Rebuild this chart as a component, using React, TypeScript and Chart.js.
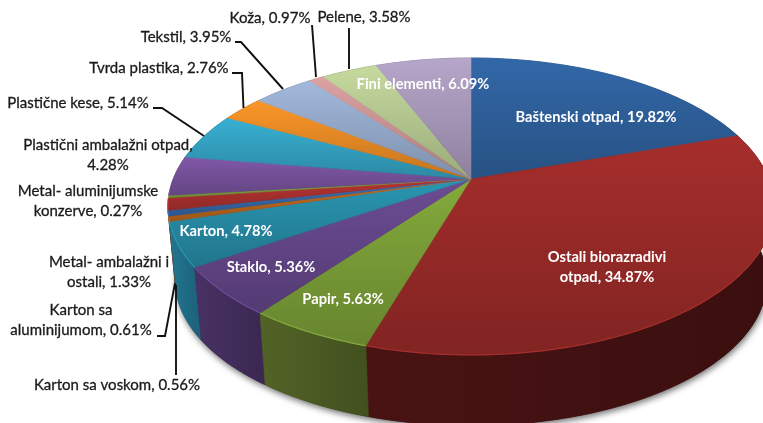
import React, { useEffect, useRef } from "react";
import { Chart, registerables } from "chart.js";

Chart.register(...registerables);

const categories = [
  "Baštenski otpad", "Ostali biorazradivi otpad", "Papir", "Staklo", "Karton",
  "Karton sa voskom", "Karton sa aluminijumom", "Metal- ambalažni i ostali",
  "Metal- aluminijumske konzerve", "Plastični ambalažni otpad", "Plastične kese",
  "Tvrda plastika", "Tekstil", "Koža", "Pelene", "Fini elementi",
];
const shares = [19.82, 34.87, 5.63, 5.36, 4.78, 0.56, 0.61, 1.33, 0.27, 4.28, 5.14, 2.76, 3.95, 0.97, 3.58, 6.09];
const sliceColors = [
  "#3268a8", "#a62e2c", "#84aa3c", "#6c4c94", "#2a96b2", "#c96e1e", "#3a70b4", "#b83432",
  "#8cae42", "#8058a8", "#38b0d2", "#fb9628", "#a2b8dc", "#dca2a2", "#c6da9e", "#b6a6ca",
];
const wallColors = [
  "#1f3f66", "#451212", "#4d5d24", "#442e5e", "#20708a", "#7a4214", "#24446e", "#6e1f1e",
  "#55692a", "#4d3566", "#226a80", "#985a18", "#626f85", "#856262", "#78845f", "#6e657a",
];

// geometry of the tilted disc
const CX = 471, CY = 179, RX = 297.8, RY = 143.4, K = 0.185, DEPTH = 75, BOTTOM_SCALE = 0.976;

const darkLabels: { lines: string[]; x: number; y: number }[] = [
  { lines: ["Koža, 0.97%"], x: 270, y: 18 },
  { lines: ["Pelene, 3.58%"], x: 364, y: 17 },
  { lines: ["Tekstil, 3.95%"], x: 186, y: 37 },
  { lines: ["Tvrda plastika, 2.76%"], x: 159, y: 68 },
  { lines: ["Plastične kese, 5.14%"], x: 78, y: 103 },
  { lines: ["Plastični ambalažni otpad,", "4.28%"], x: 108, y: 145 },
  { lines: ["Metal- aluminijumske", "konzerve, 0.27%"], x: 88, y: 191 },
  { lines: ["Metal- ambalažni i", "ostali, 1.33%"], x: 109, y: 262 },
  { lines: ["Karton sa", "aluminijumom, 0.61%"], x: 81, y: 310 },
  { lines: ["Karton sa voskom, 0.56%"], x: 117, y: 385 },
];
const lightLabels: { lines: string[]; x: number; y: number }[] = [
  { lines: ["Fini elementi, 6.09%"], x: 423, y: 84 },
  { lines: ["Baštenski otpad, 19.82%"], x: 596, y: 117 },
  { lines: ["Ostali biorazradivi", "otpad, 34.87%"], x: 607, y: 257 },
  { lines: ["Papir, 5.63%"], x: 343, y: 299 },
  { lines: ["Staklo, 5.36%"], x: 271, y: 267 },
  { lines: ["Karton, 4.78%"], x: 226, y: 231 },
];
const leaderLines: number[][][] = [
  [[235, 42], [241, 42], [283, 89]],
  [[232, 73], [242, 73], [243.5, 108]],
  [[153, 108], [162, 108], [204, 136]],
  [[312, 25], [316, 77]],
  [[349, 28], [349, 69]],
  [[176, 375], [176, 285]],
  [[157, 336], [165, 336], [175, 283]],
];

function project(a: number, scale = 1, drop = 0): [number, number] {
  const u = Math.cos(a), v = Math.sin(a), w = 1 - K * v;
  return [CX + (scale * RX * u) / w, CY + (scale * RY * v) / w + drop];
}

function arcPoints(a0: number, a1: number, scale = 1, drop = 0): [number, number][] {
  const n = Math.max(2, Math.ceil(Math.abs(a1 - a0) / 0.015));
  const out: [number, number][] = [];
  for (let i = 0; i <= n; i++) out.push(project(a0 + ((a1 - a0) * i) / n, scale, drop));
  return out;
}

function shade(hex: string, f: number) {
  const n = parseInt(hex.slice(1), 16);
  const c = [(n >> 16) & 255, (n >> 8) & 255, n & 255].map((x) => Math.round(x * f));
  return `rgb(${c[0]},${c[1]},${c[2]})`;
}

function poly(ctx: CanvasRenderingContext2D, pts: [number, number][]) {
  ctx.beginPath();
  pts.forEach((p, i) => (i ? ctx.lineTo(p[0], p[1]) : ctx.moveTo(p[0], p[1])));
  ctx.closePath();
}

const tiltedPie = {
  id: "tiltedPie",
  beforeDatasetsDraw(chart: any) {
    const ctx: CanvasRenderingContext2D = chart.ctx;
    const arcs = chart.getDatasetMeta(0).data.map((el: any, i: number) => {
      const p = el.getProps(["startAngle", "endAngle"], true);
      return { i, a0: p.startAngle as number, a1: p.endAngle as number };
    });
    ctx.save();

    // soft shadow under the disc
    ctx.save();
    ctx.shadowColor = "rgba(0,0,0,0.55)";
    ctx.shadowBlur = 6;
    ctx.shadowOffsetX = 1;
    ctx.shadowOffsetY = 3;
    ctx.fillStyle = "#3a1010";
    poly(ctx, arcPoints(0, Math.PI * 2, BOTTOM_SCALE, DEPTH));
    ctx.fill();
    ctx.restore();

    // outer walls
    arcs
      .slice()
      .sort((p: any, q: any) => Math.sin((p.a0 + p.a1) / 2) - Math.sin((q.a0 + q.a1) / 2))
      .forEach((s: any) => {
        const top = arcPoints(s.a0, s.a1);
        const pts = top.concat(arcPoints(s.a0, s.a1, BOTTOM_SCALE, DEPTH).reverse());
        const xs = pts.map((p) => p[0]);
        const g = ctx.createLinearGradient(Math.min(...xs), 0, Math.max(...xs), 0);
        g.addColorStop(0, shade(wallColors[s.i], 1.06));
        g.addColorStop(1, shade(wallColors[s.i], 0.86));
        poly(ctx, pts);
        ctx.fillStyle = g;
        ctx.strokeStyle = g;
        ctx.lineWidth = 0.6;
        ctx.fill();
        ctx.stroke();
      });

    // top faces
    arcs.forEach((s: any) => {
      const rim = arcPoints(s.a0, s.a1);
      const pts: [number, number][] = [[CX, CY], ...rim];
      const ys = pts.map((p) => p[1]);
      const g = ctx.createLinearGradient(0, Math.min(...ys), 0, Math.max(...ys));
      g.addColorStop(0, sliceColors[s.i]);
      g.addColorStop(1, shade(sliceColors[s.i], 0.78));
      poly(ctx, pts);
      ctx.fillStyle = g;
      ctx.strokeStyle = g;
      ctx.lineWidth = 0.5;
      ctx.fill();
      ctx.stroke();
      // rim highlight on the front edge
      const front = rim.filter((p) => p[1] > CY + 10);
      if (front.length > 1) {
        ctx.beginPath();
        front.forEach((p, i) => (i ? ctx.lineTo(p[0], p[1]) : ctx.moveTo(p[0], p[1])));
        ctx.strokeStyle = shade(sliceColors[s.i], 1.0);
        ctx.lineWidth = 1.2;
        ctx.stroke();
      }
    });

    // leader lines
    ctx.strokeStyle = "#111";
    ctx.lineWidth = 1.9;
    leaderLines.forEach((l) => {
      ctx.beginPath();
      l.forEach((p, i) => (i ? ctx.lineTo(p[0], p[1]) : ctx.moveTo(p[0], p[1])));
      ctx.stroke();
    });

    // labels
    ctx.textAlign = "center";
    ctx.textBaseline = "middle";
    const write = (items: typeof darkLabels, font: string, color: string, edge: number) => {
      ctx.font = font;
      ctx.fillStyle = color;
      ctx.strokeStyle = color;
      ctx.lineWidth = edge;
      items.forEach((it) =>
        it.lines.forEach((t, i) => {
          ctx.fillText(t, it.x, it.y + i * 20.5);
          if (edge) ctx.strokeText(t, it.x, it.y + i * 20.5);
        })
      );
    };
    write(darkLabels, "400 15px Lato", "#1a1a1a", 0.3);
    write(lightLabels, "700 14.7px Lato", "#ffffff", 0);
    ctx.restore();
    return false;
  },
};

export default function App() {
  const ref = useRef<HTMLCanvasElement>(null);
  useEffect(() => {
    document.body.style.margin = "0";
    const chart = new Chart(ref.current as HTMLCanvasElement, {
      type: "pie",
      data: {
        labels: categories,
        datasets: [{ data: shares, backgroundColor: sliceColors, borderWidth: 0 }],
      },
      options: {
        responsive: false,
        animation: false,
        plugins: { legend: { display: false }, tooltip: { enabled: false } },
      },
      plugins: [tiltedPie],
    } as any);
    return () => chart.destroy();
  }, []);
  return (
    <div style={{ width: 763, height: 423, overflow: "hidden", background: "#fff" }}>
      <canvas ref={ref} width={763} height={423} style={{ display: "block", filter: "blur(0.35px)" }} />
    </div>
  );
}
